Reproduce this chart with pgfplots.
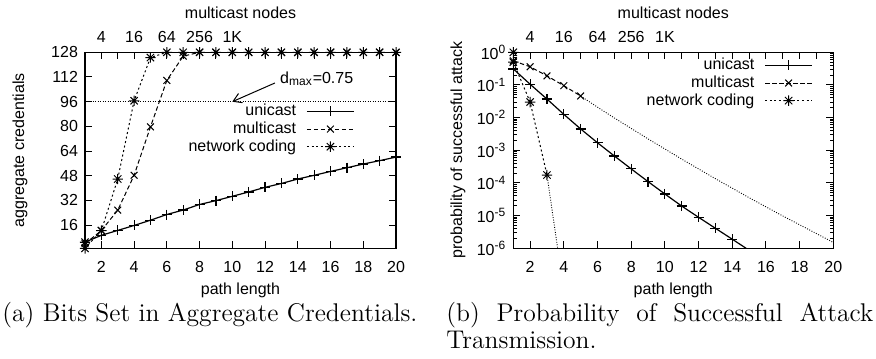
\documentclass[border=0pt]{standalone}
\usepackage{fontspec}
\usepackage{pgfplots}
\pgfplotsset{compat=1.18}
\usetikzlibrary{arrows.meta}
\newfontfamily\hv{Liberation Sans}
\newcommand\hvs{\hv\fontsize{8}{9.6}\selectfont}
\pgfdeclareplotmark{gpstar}{%
 \pgfpathmoveto{\pgfqpoint{-\pgfplotmarksize}{0pt}}\pgfpathlineto{\pgfqpoint{\pgfplotmarksize}{0pt}}%
 \pgfpathmoveto{\pgfqpoint{0pt}{-\pgfplotmarksize}}\pgfpathlineto{\pgfqpoint{0pt}{\pgfplotmarksize}}%
 \pgfpathmoveto{\pgfqpoint{-.7\pgfplotmarksize}{-.7\pgfplotmarksize}}\pgfpathlineto{\pgfqpoint{.7\pgfplotmarksize}{.7\pgfplotmarksize}}%
 \pgfpathmoveto{\pgfqpoint{-.7\pgfplotmarksize}{.7\pgfplotmarksize}}\pgfpathlineto{\pgfqpoint{.7\pgfplotmarksize}{-.7\pgfplotmarksize}}%
 \pgfusepathqstroke}
\pgfplotsset{
 gpbase/.style={scale only axis, height=98pt, xmin=1, xmax=20,
  tick align=inside, major tick length=3.5pt, minor tick length=1.8pt,
  axis line style={line width=0.7pt},
  every tick/.style={line width=0.5pt, black},
  tick label style={font=\hvs}, label style={font=\hvs},
  /pgf/number format/assume math mode=true},
 gpmain/.style={gpbase, xtick={2,4,...,20}, xtick pos=left,
  xticklabel style={anchor=base, yshift=-12pt},
  xlabel={path length},
  xlabel style={at={(axis description cs:0.5,-0.216)}, anchor=center},
  legend cell align=right, legend plot pos=right,
  legend style={draw=none, fill=none, font=\hvs, inner sep=0pt, anchor=north east,
    column sep=4.5pt,
    nodes={inner sep=0.6pt, text height=6pt, text depth=1.6pt}},
  legend image code/.code={\draw[mark=none] (0pt,0pt) -- (23.5pt,0pt);
    \draw plot[only marks] coordinates {(11.75pt,0pt)};}},
 gptop/.style={gpbase, axis x line*=top, axis y line=none, ymin=0, ymax=1,
  xtick={1,...,20}, xticklabels={,4,,16,,64,,256,,1K},
  xticklabel style={anchor=base, yshift=4.9pt},
  xlabel={multicast nodes},
  xlabel style={at={(axis description cs:0.5,1.202)}, anchor=center}},
 uni/.style={line width=0.6pt, mark=+, mark size=2.5pt},
 mul/.style={line width=0.5pt, dash pattern=on 2.2pt off 1.3pt, mark=x, mark size=2.4pt, mark options={solid}},
 nc/.style={line width=0.5pt, dash pattern=on 1pt off 1.3pt, mark=gpstar, mark size=2.6pt, mark options={solid}},
}
\begin{document}
\begin{tikzpicture}
\path (0,0) rectangle (438pt,-179pt);
% ---------- left ----------
\begin{axis}[gpmain, width=155.5pt, at={(42.5pt,-124.15pt)}, anchor=south west,
  ymin=1, ymax=128, ytick={16,32,...,128},
  ylabel={aggregate credentials},
  ylabel style={at={(axis description cs:-0.209,0.5)}, anchor=center},
  legend style={at={(0.868,0.745)}}]
\addplot[uni] coordinates {(1,5) (2,9.4) (3,12.6) (4,15.8) (5,19.2) (6,22.9) (7,25.8) (8,29.4) (9,31.9) (10,34.7) (11,37.5) (12,40.5) (13,43.0) (14,45.9) (15,48.3) (16,50.8) (17,53.2) (18,55.6) (19,57.8) (20,60.1)};
\addlegendentry{unicast}
\addplot[mul] coordinates {(1,4) (2,12.5) (3,25.7) (4,48.3) (5,79.7) (6,109.8) (7,125.5) (8,128) (9,128) (10,128) (11,128) (12,128) (13,128) (14,128) (15,128) (16,128) (17,128) (18,128) (19,128) (20,128)};
\addlegendentry{multicast}
\addplot[nc] coordinates {(1,1) (2,12.5) (3,45.9) (4,96.6) (5,124.6) (6,128) (7,128) (8,128) (9,128) (10,128) (11,128) (12,128) (13,128) (14,128) (15,128) (16,128) (17,128) (18,128) (19,128) (20,128)};
\addlegendentry{network coding}
\addplot[forget plot, only marks, mark=gpstar, mark size=2.6pt, line width=0.5pt] coordinates {(1,5)};
\addplot[forget plot, line width=0.45pt, dash pattern=on 0.45pt off 0.8pt] coordinates {(1,96) (20,96)};
\draw[-{Straight Barb[length=4pt,width=5pt]}, line width=0.5pt] (axis cs:12.6,108.1) -- (axis cs:10,96);
\node[anchor=west, font=\hvs, inner sep=0pt] at (axis cs:12.9,110.6) {d\textsubscript{max}=0.75};
\end{axis}
\begin{axis}[gptop, width=155.5pt, at={(42.5pt,-124.15pt)}, anchor=south west]
\end{axis}
% ---------- right ----------
\begin{axis}[gpmain, width=160pt, at={(256.65pt,-124.15pt)}, anchor=south west,
  ymode=log, ymin=1e-6, ymax=1,
  ytick={1e-6,1e-5,1e-4,1e-3,1e-2,1e-1,1},
  yticklabels={10\textsuperscript{-6},10\textsuperscript{-5},10\textsuperscript{-4},10\textsuperscript{-3},10\textsuperscript{-2},10\textsuperscript{-1},10\textsuperscript{0}},
  ylabel={probability of successful attack},
  ylabel style={at={(axis description cs:-0.173,0.5)}, anchor=center},
  legend style={at={(0.937,0.98)}}]
\addplot[uni, mark indices={1,2,3,4,5,6,7,8,9,10,11,12,13,14}] coordinates {(1,0.31) (2,0.105) (3,0.037) (4,0.0126) (5,0.0045) (6,0.0017) (7,6.7e-4) (8,2.7e-4) (9,1.1e-4) (10,4.6e-5) (11,1.96e-5) (12,8.9e-6) (13,4.1e-6) (14,1.9e-6) (15,8.7e-7)};
\addlegendentry{unicast}
\addplot[mul] coordinates {(1,0.55) (2,0.36) (3,0.19) (4,0.095) (5,0.046)};
\addlegendentry{multicast}
\addplot[nc] coordinates {(1,0.5) (2,0.03) (3,1.75e-4)};
\addlegendentry{network coding}
\addplot[forget plot, only marks, mark=gpstar, mark size=2.6pt, line width=0.5pt] coordinates {(1,1)};
\addplot[forget plot, line width=0.45pt, dash pattern=on 0.45pt off 0.8pt] coordinates {(5,0.0457) (6,0.0209) (7,0.00977) (8,0.00468) (9,0.00224) (10,0.0011) (11,5.37e-4) (12,2.69e-4) (13,1.35e-4) (14,6.92e-5) (15,3.55e-5) (16,1.86e-5) (17,9.77e-6) (18,5.25e-6) (19,2.82e-6) (20,1.51e-6)};
\addplot[forget plot, line width=0.45pt, dash pattern=on 0.45pt off 0.8pt] coordinates {(3,1.75e-4) (4,5e-8)};
\end{axis}
\begin{axis}[gptop, width=160pt, at={(256.65pt,-124.15pt)}, anchor=south west]
\end{axis}
% ---------- captions ----------
\node[anchor=base west, inner sep=0pt, font=\fontsize{12.8}{13.5}\selectfont] at (1pt,-160.5pt) {(a) Bits Set in Aggregate Credentials.};
\node[anchor=base west, inner sep=0pt, font=\fontsize{12.8}{13.5}\selectfont] at (223pt,-160.5pt)
 {\parbox[t]{213.5pt}{\hyphenpenalty=10000 \exhyphenpenalty=10000 \tolerance=10000 (b) Probability of Successful Attack Transmission.}};
\end{tikzpicture}
\end{document}
